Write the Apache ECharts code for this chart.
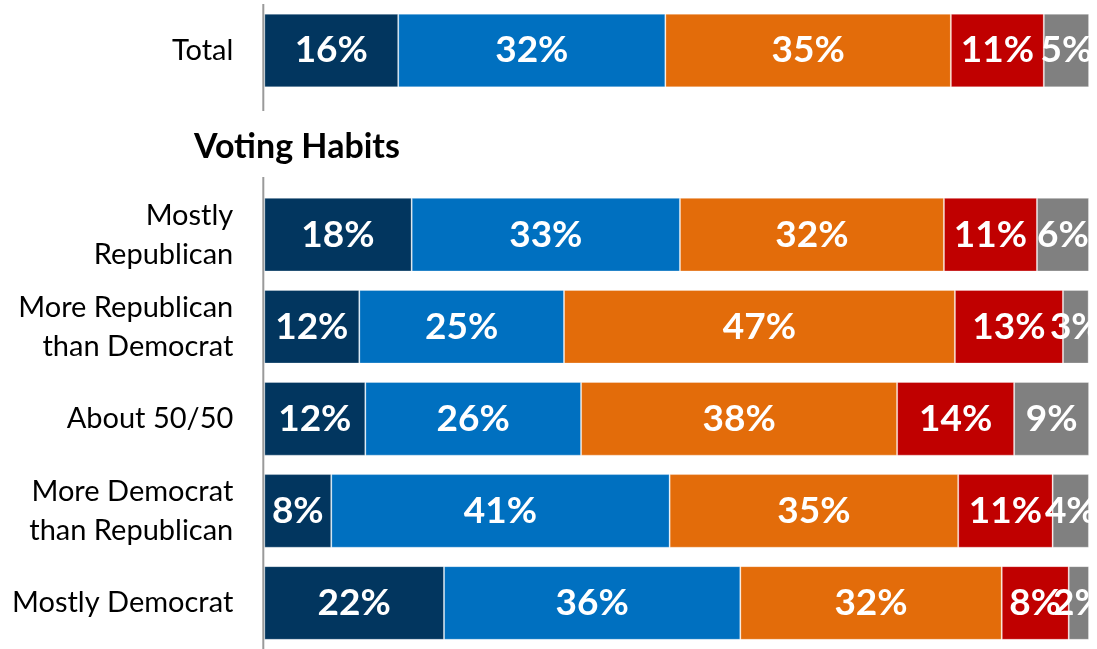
<!DOCTYPE html>
<html>
<head>
<meta charset="utf-8">
<script src="https://cdn.jsdelivr.net/npm/echarts@6/dist/echarts.min.js"></script>
<style>
  html, body { margin: 0; padding: 0; background: #fff; }
  #chart { width: 1097px; height: 649px; }
</style>
</head>
<body>
<div id="chart"></div>
<script>
// rows, top to bottom; the empty one holds the "Voting Habits" heading
var categories = [
  "Total",
  "",
  "Mostly\nRepublican",
  "More Republican\nthan Democrat",
  "About 50/50",
  "More Democrat\nthan Republican",
  "Mostly Democrat"
];
var heading = "Voting Habits";

// shares per segment (percent of row)
var darkBlue = [16.24, null, 17.87, 11.52, 12.25, 8.12, 21.79];
var midBlue = [32.39, null, 32.53, 24.82, 26.16, 41.03, 35.93];
var orange = [34.62, null, 32.01, 47.4, 38.32, 34.99, 31.7];
var red = [11.27, null, 11.28, 13.1, 14.19, 11.45, 8.12];
var grey = [5.49, null, 6.31, 3.12, 9.09, 4.4, 2.46];

var seriesColors = ["#02365F", "#0070C0", "#E36C0A", "#C00000", "#808080"];
var fontName = "Lato";

var chart = echarts.init(document.getElementById("chart"));

function makeSeries(data, i) {
  return {
    type: "bar",
    stack: "all",
    data: data,
    barCategoryGap: "20%",
    itemStyle: {
      color: seriesColors[i],
      borderColor: "rgba(255,255,255,0.3)",
      borderWidth: 1
    },
    label: {
      show: true,
      position: "inside",
      color: "#fff",
      fontFamily: fontName,
      fontWeight: "bold",
      fontSize: 37,
      formatter: function (p) {
        return Math.round(p.value) + "%";
      }
    }
  };
}

var options = {
  animation: false,
  title: {
    text: heading,
    left: 189,
    top: 125,
    textStyle: {
      fontFamily: fontName,
      fontWeight: "bold",
      fontSize: 34,
      color: "#000"
    }
  },
  grid: {
    left: 264.3,
    right: 8,
    top: 4.5,
    height: 646.8
  },
  xAxis: {
    type: "value",
    min: 0,
    max: 100,
    show: false
  },
  yAxis: {
    type: "category",
    inverse: true,
    data: categories,
    axisLine: { show: false },
    axisTick: { show: false },
    axisLabel: {
      margin: 31,
      color: "#000",
      fontFamily: fontName,
      fontSize: 29,
      lineHeight: 39
    }
  },
  // axis line is broken around the heading
  graphic: [
    {
      type: "line",
      shape: { x1: 263.3, y1: 4, x2: 263.3, y2: 111 },
      style: { stroke: "#9A9A9A", lineWidth: 2 }
    },
    {
      type: "line",
      shape: { x1: 263.3, y1: 177, x2: 263.3, y2: 649 },
      style: { stroke: "#9A9A9A", lineWidth: 2 }
    }
  ],
  series: [darkBlue, midBlue, orange, red, grey].map(makeSeries)
};

chart.setOption(options);
</script>
</body>
</html>
